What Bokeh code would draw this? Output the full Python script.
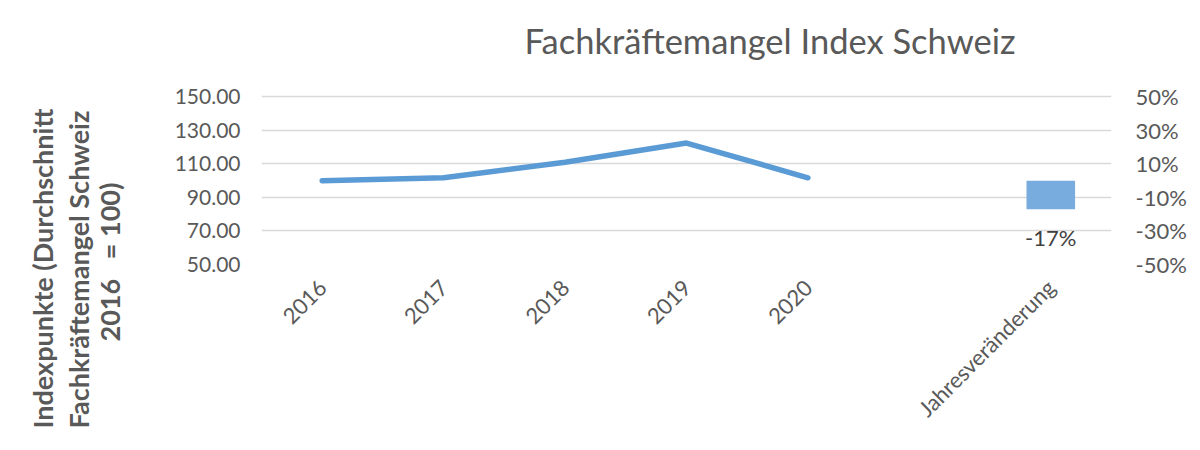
import math
from bokeh.plotting import figure
from bokeh.models import (FactorRange, Range1d, LinearAxis, FixedTicker,
                          NumeralTickFormatter, CustomJSTickFormatter, Title, Label)
from bokeh.core.properties import value
from bokeh.embed import file_html
from bokeh.resources import INLINE

# ---- data ----
categories = ["2016", "2017", "2018", "2019", "2020", " ", "Jahresveränderung"]
years = ["2016", "2017", "2018", "2019", "2020"]
index_values = [100.0, 101.7, 111.0, 122.4, 101.7]
change_category = ["Jahresveränderung"]
change_values = [-17]
change_labels = ["-17%"]
left_ticks = [50, 70, 90, 110, 130, 150]
right_ticks = [-50, -30, -10, 10, 30, 50]

title_text = "Fachkräftemangel Index Schweiz"
ylabel_lines = ["Indexpunkte (Durchschnitt", "Fachkräftemangel Schweiz",
                "2016\u00a0\u00a0 = 100)"]

FONT = "Lato"
GRAY = "#595959"
BLUE = "#5b9bd5"
BAR_BLUE = "#78acdf"

W, H = 1190, 434
GRID_TOP, GRID_BOTTOM = 97, 266          # pixel rows of the 150 / 50 gridlines
FRAME_LEFT, FRAME_RIGHT = 261, 1111

# the frame reaches up to the canvas top so that the chart title can sit inside it
px_per_unit = (GRID_BOTTOM - GRID_TOP) / (left_ticks[-1] - left_ticks[0])
y_top = left_ticks[-1] + GRID_TOP / px_per_unit
pct_top = right_ticks[-1] + GRID_TOP / px_per_unit

p = figure(width=W, height=H,
           x_range=FactorRange(*categories, range_padding=0),
           y_range=Range1d(left_ticks[0], y_top), output_backend="svg",
           toolbar_location=None,
           min_border_left=FRAME_LEFT, min_border_right=W - FRAME_RIGHT,
           min_border_top=0, min_border_bottom=H - GRID_BOTTOM)
p.outline_line_color = None
p.background_fill_color = "white"
p.border_fill_color = "white"

p.extra_y_ranges = {"pct": Range1d(right_ticks[0], pct_top)}

# chart title
p.add_layout(Label(x=263, y=GRID_BOTTOM - 42, x_units="screen", y_units="screen",
                   text=title_text, text_font=FONT, text_font_size="34.5px",
                   text_color=GRAY, text_align="left", text_baseline="alphabetic"))

# grid
p.xgrid.grid_line_color = None
p.ygrid.ticker = FixedTicker(ticks=left_ticks)
p.ygrid.grid_line_color = "#d9d9d9"
p.ygrid.grid_line_width = 1.5

# left axis
ya = p.yaxis[0]
ya.ticker = FixedTicker(ticks=left_ticks)
ya.formatter = NumeralTickFormatter(format="0.00")
ya.axis_line_color = None
ya.major_tick_line_color = None
ya.minor_tick_line_color = None
ya.major_tick_out = 0
ya.major_tick_in = 0
ya.minor_tick_out = 0
ya.major_label_text_font = FONT
ya.major_label_text_font_size = "21px"
ya.major_label_text_color = GRAY
ya.major_label_standoff = 21

# y axis title: three bold rotated lines, placed as side titles
spacer = Title(text=" ", text_font_size="10px", standoff=35, text_color="white")
p.add_layout(spacer, "left")
offsets = [-164, -164, -77]
standoffs = [1, 0, -7]
for line, off, so in reversed(list(zip(ylabel_lines, offsets, standoffs))):
    p.add_layout(Title(text=line, align="left", offset=off, vertical_align="middle",
                       text_font=FONT, text_font_size="27px", text_font_style="bold",
                       text_color=GRAY, standoff=so), "left")

# right axis
ra = LinearAxis(y_range_name="pct", ticker=FixedTicker(ticks=right_ticks),
                formatter=CustomJSTickFormatter(code="return tick + '%';"))
ra.axis_line_color = None
ra.major_tick_line_color = None
ra.minor_tick_line_color = None
ra.major_tick_out = 0
ra.major_tick_in = 0
ra.minor_tick_out = 0
ra.major_label_text_font = FONT
ra.major_label_text_font_size = "22px"
ra.major_label_text_color = GRAY
ra.major_label_standoff = 24
p.add_layout(ra, "right")

# bottom axis
xa = p.xaxis[0]
xa.axis_line_color = None
xa.major_tick_line_color = None
xa.minor_tick_line_color = None
xa.major_tick_out = 0
xa.major_tick_in = 0
xa.major_label_orientation = math.pi / 4
xa.major_label_text_font = FONT
xa.major_label_text_font_size = "22px"
xa.major_label_text_color = GRAY
xa.major_label_standoff = 19

# series
p.line(x=years, y=index_values, line_color=BLUE, line_width=5.5, line_join="round",
       line_cap="round")
p.vbar(x=change_category, top=[0], bottom=change_values, width=0.4,
       y_range_name="pct", fill_color=BAR_BLUE, line_color=None)
p.text(x=change_category, y=[v - 17 for v in change_values], text=change_labels,
       y_range_name="pct", text_align="center", text_baseline="middle",
       text_font=value(FONT), text_font_size="22px", text_color="#404040")

open("out.html", "w").write(file_html(p, INLINE))
